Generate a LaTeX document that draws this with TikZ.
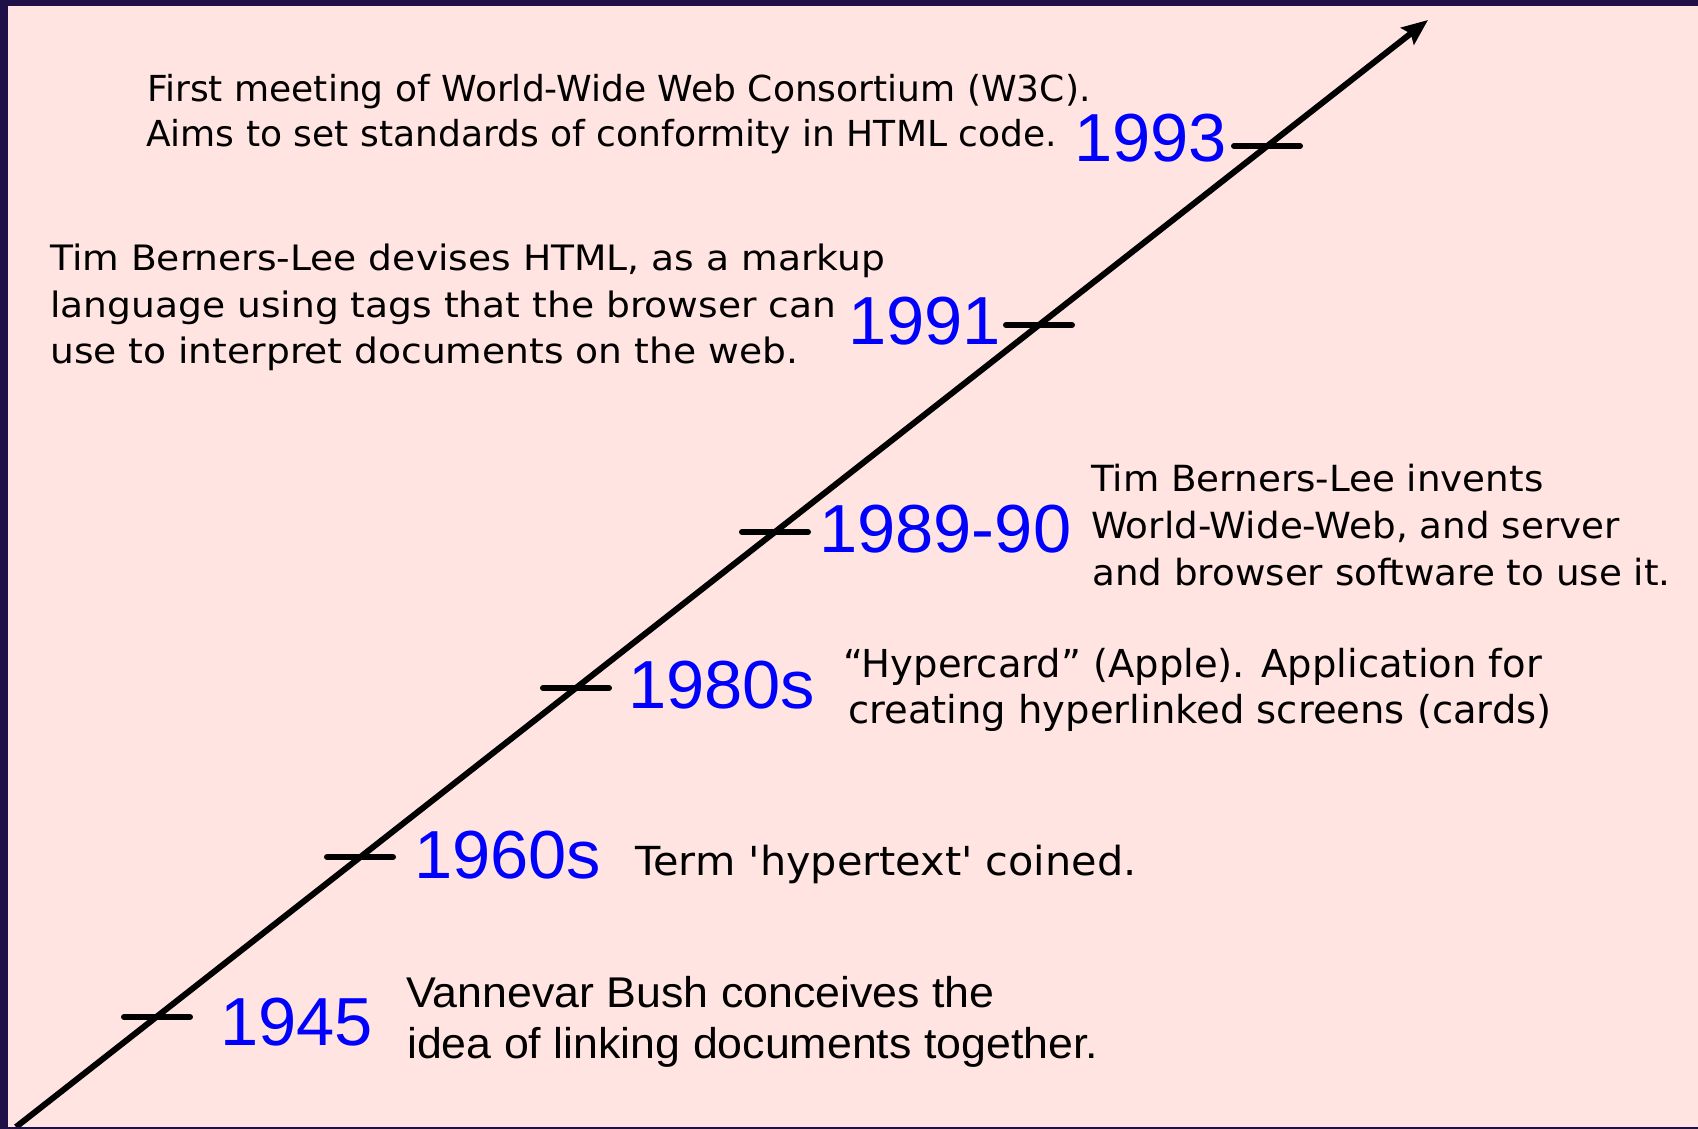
\documentclass[tikz,border=0pt]{standalone}
\usepackage{fontspec}
\usetikzlibrary{arrows.meta}
\newfontfamily\dvs{DejaVu Sans}
\newfontfamily\dvsa[FakeStretch=1.007]{DejaVu Sans}
\newfontfamily\dvsb[FakeStretch=1.035]{DejaVu Sans}
\newfontfamily\dvswide[FakeStretch=1.075]{DejaVu Sans}
\newfontfamily\lbsyear[FakeStretch=1.01]{Liberation Sans}
\newfontfamily\lbswide[FakeStretch=1.04]{Liberation Sans}
\definecolor{bgpink}{RGB}{255,228,225}
\definecolor{framecol}{RGB}{32,16,72}
\definecolor{yearblue}{RGB}{0,0,255}
\begin{document}
\begin{tikzpicture}[x=1pt,y=-1pt,
  axisline/.style={line width=6pt, -{Stealth[length=26pt,width=21pt,inset=4pt]}},
  tickmark/.style={line width=6pt, line cap=round},
  yearlabel/.style={anchor=base west, inner sep=0pt, text=yearblue,
    font=\lbsyear\fontsize{68}{80}\selectfont},
  desc/.style={anchor=base west, inner sep=0pt, text=black}]
\useasboundingbox (0,0) rectangle (1698,1129);
\fill[bgpink] (0,0) rectangle (1698,1129);
% axis
\coordinate (start) at (16,1127);
\coordinate (tip) at (1428,20);
\draw[axisline] (start) -- (tip);
% tick centres
\coordinate (c45) at (157,1017);
\coordinate (c60) at (360,857);
\coordinate (c80) at (576,688);
\coordinate (c89) at (775,532);
\coordinate (c91) at (1039,325);
\coordinate (c93) at (1267,146);
\foreach \c in {c45,c60,c80,c89,c91,c93}
  \draw[tickmark] ([xshift=-33pt]\c) -- ([xshift=33pt]\c);
% years
\node[yearlabel] (y45) at (220,1045) {1945};
\node[yearlabel] (y60) at (414,878) {1960s};
\node[yearlabel] (y80) at (628,708) {1980s};
\node[yearlabel] (y89) at (819,552) {1989-90};
\node[yearlabel] (y91) at (848,344) {1991};
\node[yearlabel] (y93) at (1074,162) {1993};
% 1993 text
\node[desc, font=\dvsa\fontsize{35.8}{43}\selectfont] (t93a) at (147,102) {First meeting of World-Wide Web Consortium (W3C).};
\node[desc, font=\dvsa\fontsize{35.8}{43}\selectfont] (t93b) at (146,147) {Aims to set standards of conformity in HTML code.};
% 1991 text
\node[desc, font=\dvswide\fontsize{35}{43}\selectfont] (t91a) at (50,270) {Tim Berners-Lee devises HTML, as a markup};
\node[desc, font=\dvswide\fontsize{35}{43}\selectfont] (t91b) at (50,317) {language using tags that the browser can};
\node[desc, font=\dvswide\fontsize{35}{43}\selectfont] (t91c) at (50,363) {use to interpret documents on the web.};
% 1989-90 text
\node[desc, font=\dvsb\fontsize{36}{43}\selectfont] (t89a) at (1091,491) {Tim Berners-Lee invents};
\node[desc, font=\dvsb\fontsize{36}{43}\selectfont] (t89b) at (1091,538) {World-Wide-Web, and server};
\node[desc, font=\dvsb\fontsize{36}{43}\selectfont] (t89c) at (1092,585) {and browser software to use it.};
% 1980s text
\node[desc, font=\dvs\fontsize{38.5}{46}\selectfont] (t80a) at (843,677) {“Hypercard” (Apple). Application for};
\node[desc, font=\dvs\fontsize{38.5}{46}\selectfont] (t80b) at (848,723) {creating hyperlinked screens (cards)};
% 1960s text
\node[desc, font=\dvsb\fontsize{40}{48}\selectfont] (t60) at (635,875) {Term 'hypertext' coined.};
% 1945 text
\node[desc, font=\lbswide\fontsize{43}{50}\selectfont] (t45a) at (406,1007) {Vannevar Bush conceives the};
\node[desc, font=\lbswide\fontsize{43}{50}\selectfont] (t45b) at (407,1058) {idea of linking documents together.};
% frame
\fill[framecol] (0,0) rectangle (8,1129);
\fill[framecol] (0,0) rectangle (1698,6);
\fill[framecol] (0,1127) rectangle (1698,1129);
\end{tikzpicture}
\end{document}
